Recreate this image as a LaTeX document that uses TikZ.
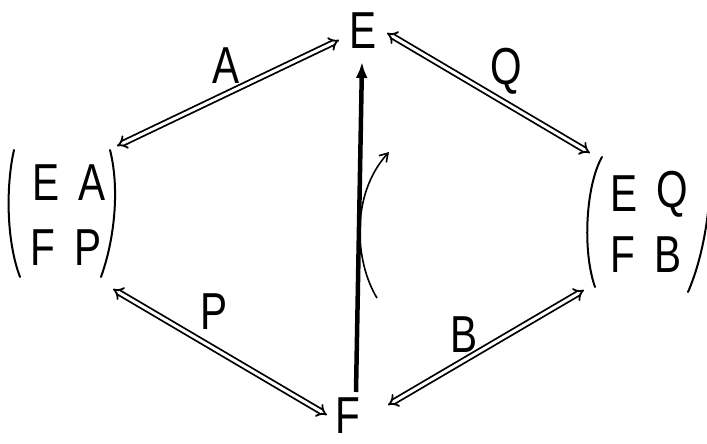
\documentclass[tikz,border=0pt]{standalone}
\usepackage{fontspec}
\setmainfont{Liberation Sans}[FakeStretch=0.78]
\usetikzlibrary{arrows.meta}
\begin{document}
\begin{tikzpicture}[x=1pt,y=-1pt,
  lbl/.style={inner sep=0pt,font=\fontsize{52}{52}\selectfont},
  dbl/.style={double,double distance=3pt,line width=1.8pt,{Implies[length=7pt]}-{Implies[length=7pt]}},
  thick arr/.style={line width=4.5pt,-{Latex[length=16pt,width=12pt]}},
  paren/.style={line width=2pt,line cap=round},
  rot/.style={line width=1.6pt,-{Straight Barb[length=8pt,width=10pt]}}]
\useasboundingbox (0,0) rectangle (707,444);
% main letters
\node[lbl] (E) at (363,31) {E};
\node[lbl] (F) at (348,416) {F};
% left matrix
\node[lbl] (lE) at (46,183) {E};
\node[lbl] (lA) at (92,183) {A};
\node[lbl] (lF) at (43,248) {F};
\node[lbl] (lP) at (88,248) {P};
\draw[paren] (14,150) .. controls (6,185) and (6,240) .. (20,277);
\draw[paren] (110,150) .. controls (119,185) and (116,235) .. (101,277);
% right matrix
\node[lbl] (rE) at (624,194) {E};
\node[lbl] (rQ) at (672,194) {Q};
\node[lbl] (rF) at (623,255) {F};
\node[lbl] (rB) at (668,255) {B};
\draw[paren] (602,157) .. controls (586,185) and (582,250) .. (595,287);
\draw[paren] (710,160) .. controls (712,210) and (702,260) .. (688,292);
% connector end points
\coordinate (aL) at (117,146);
\coordinate (aR) at (339,40);
\coordinate (qL) at (387,33);
\coordinate (qR) at (590,153);
\coordinate (pL) at (113,289);
\coordinate (pR) at (327,415);
\coordinate (bL) at (388,405);
\coordinate (bR) at (584,290);
\draw[dbl] (aL) -- (aR);
\draw[dbl] (qL) -- (qR);
\draw[dbl] (pL) -- (pR);
\draw[dbl] (bL) -- (bR);
% labels
\node[lbl] (A) at (226,66) {A};
\node[lbl] (Q) at (506,71) {Q};
\node[lbl] (P) at (214,312) {P};
\node[lbl] (B) at (464,335) {B};
% rotation arrow
\coordinate (r1) at (377,298);
\coordinate (r2) at (389,152);
\draw[rot] (r1) .. controls (355,262) and (350,195) .. (r2);
% thick arrow
\coordinate (t1) at (356,392);
\coordinate (t2) at (362,62);
\draw[thick arr] (t1) -- (t2);
\end{tikzpicture}
\end{document}
